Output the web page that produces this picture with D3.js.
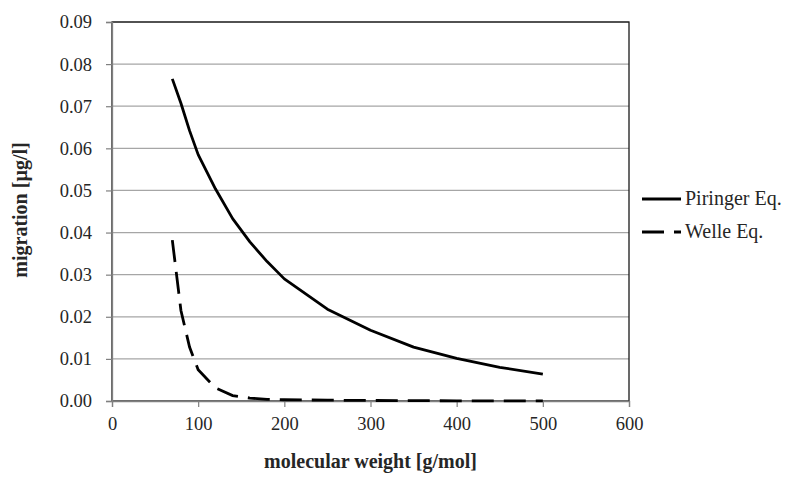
<!DOCTYPE html>
<html><head><meta charset="utf-8">
<script src="https://cdn.jsdelivr.net/npm/d3@7/dist/d3.min.js"></script>
<style>
body{margin:0;background:#fff;}
</style></head>
<body><svg id="chart" width="792" height="482"></svg>
<script>
const molWeight = [70, 80, 90, 100, 120, 140, 160, 180, 200, 250, 300, 350, 400, 450, 500];
const piringer = [0.0765, 0.0707, 0.0642, 0.0585, 0.0504, 0.0433, 0.0378, 0.0331, 0.0290, 0.0218, 0.0168, 0.0128, 0.0101, 0.0080, 0.0064];
const welle    = [0.0382, 0.0215, 0.0128, 0.0074, 0.0031, 0.0013, 0.0007, 0.0004, 0.0003, 0.0002, 0.00012, 0.00008, 0.00005, 0.00003, 0.00002];
const seriesNames = ["Piringer Eq.", "Welle Eq."];
const xTicks = [0, 100, 200, 300, 400, 500, 600];
const yTicks = [0, 0.01, 0.02, 0.03, 0.04, 0.05, 0.06, 0.07, 0.08, 0.09];

const FONT = '"Liberation Serif", "Times New Roman", serif';
const svg = d3.select("#chart").attr("font-family", FONT);
const L = 112, R = 629, T = 22, B = 401;
const x = d3.scaleLinear().domain([0, 600]).range([L, R]);
const y = d3.scaleLinear().domain([0, 0.09]).range([B, T]);

// gridlines
svg.append("g").selectAll("line").data(yTicks.slice(1)).join("line")
  .attr("x1", L).attr("x2", R).attr("y1", d => y(d)).attr("y2", d => y(d))
  .attr("stroke", "#a6a6a6").attr("stroke-width", 1.3);

// plot border
svg.append("rect").attr("x", L).attr("y", T).attr("width", R - L).attr("height", B - T)
  .attr("fill", "none").attr("stroke", "#1a1a1a").attr("stroke-width", 1.3);

// axes
const yAxis = d3.axisLeft(y).tickValues(yTicks).tickFormat(d3.format(".2f")).tickSize(6).tickPadding(14);
const gy = svg.append("g").attr("transform", `translate(${L},0)`).call(yAxis);
const xAxis = d3.axisBottom(x).tickValues(xTicks).tickFormat(d3.format("d")).tickSize(6).tickPadding(10);
const gx = svg.append("g").attr("transform", `translate(0,${B})`).call(xAxis);
[gx, gy].forEach(g => {
  g.attr("font-family", FONT).attr("font-size", 18.5);
  g.select(".domain").attr("stroke", "#808080").attr("stroke-width", 1.3);
  g.selectAll(".tick line").attr("stroke", "#808080").attr("stroke-width", 1.2);
  g.selectAll("text").attr("fill", "#262626");
});

// lines
const data = molWeight.map((m, i) => ({m, p: piringer[i], w: welle[i]}));
const lineP = d3.line().x(d => x(d.m)).y(d => y(d.p));
const lineW = d3.line().x(d => x(d.m)).y(d => y(d.w));
svg.append("path").datum(data).attr("d", lineP).attr("fill", "none")
  .attr("stroke", "#000").attr("stroke-width", 2.8).attr("stroke-linejoin", "round");
svg.append("path").datum(data).attr("d", lineW).attr("fill", "none")
  .attr("stroke", "#000").attr("stroke-width", 2.8).attr("stroke-dasharray", "22,10");

// legend
const lg = svg.append("g");
const legY = [199, 232];
seriesNames.forEach((name, i) => {
  lg.append("line").attr("x1", 642).attr("x2", 681).attr("y1", legY[i]).attr("y2", legY[i])
    .attr("stroke", "#000").attr("stroke-width", 2.8)
    .attr("stroke-dasharray", i === 1 ? "22,10" : null);
  lg.append("text").attr("x", 685).attr("y", legY[i] + 6).attr("font-size", 20)
    .attr("fill", "#262626").text(name);
});

// titles
svg.append("text").attr("x", (L + R) / 2).attr("y", 468).attr("text-anchor", "middle")
  .attr("font-size", 20).attr("font-weight", "bold").attr("fill", "#262626").text("molecular weight [g/mol]");
svg.append("text").attr("transform", "translate(27,210) rotate(-90)").attr("text-anchor", "middle")
  .attr("font-size", 20).attr("font-weight", "bold").attr("fill", "#262626").text("migration [µg/l]");
</script></body></html>
